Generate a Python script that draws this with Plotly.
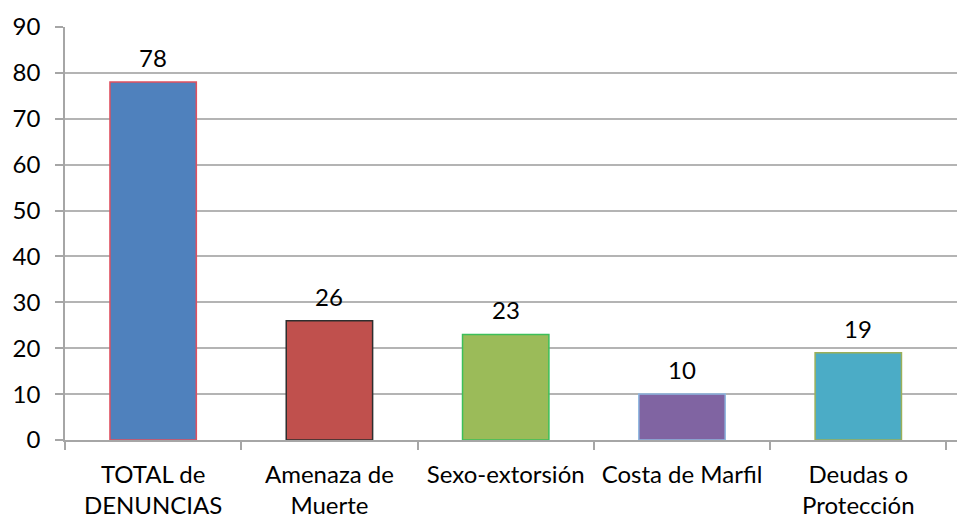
import plotly.graph_objects as go

categories = ["TOTAL de<br>DENUNCIAS", "Amenaza de<br>Muerte", "Sexo-extorsión", "Costa de Marfil", "Deudas o<br>Protección"]
values = [78, 26, 23, 10, 19]
fill_colors = ["#4F81BD", "#C0504D", "#9BBB59", "#8064A2", "#4BACC6"]
line_colors = ["#E0505F", "#2E2E2E", "#3CBF5A", "#8FB6E0", "#9BAF59"]
y_ticks = [0, 10, 20, 30, 40, 50, 60, 70, 80, 90]

FONT = "Lato"
FS = 24

fig = go.Figure()
fig.add_trace(go.Bar(
    x=categories,
    y=values,
    marker=dict(color=fill_colors, line=dict(color=line_colors, width=1.5)),
    cliponaxis=False,
    width=0.49,
    hoverinfo="x+y",
))

for c, v in zip(categories, values):
    fig.add_annotation(
        x=c, y=v, text=str(v), showarrow=False,
        yanchor="bottom", yshift=8,
        font=dict(family=FONT, size=FS, color="#000000"),
    )

fig.update_layout(
    width=957, height=520,
    margin=dict(l=65, r=0, t=27, b=80, autoexpand=False),
    paper_bgcolor="white", plot_bgcolor="white",
    showlegend=False,
    font=dict(family=FONT, size=FS, color="#000000"),
)
fig.update_xaxes(
    range=[-0.5, 4.56],
    automargin=False,
    tickson="boundaries",
    ticks="outside", ticklen=8, tickcolor="#A6A6A6", tickwidth=1.5,
    showline=True, linecolor="#A6A6A6", linewidth=1.5,
    showgrid=False,
    ticklabelstandoff=12,
    tickfont=dict(family=FONT, size=FS, color="#000000"),
)
fig.update_yaxes(
    range=[0, 90],
    automargin=False,
    tickvals=y_ticks,
    ticks="outside", ticklen=8, tickcolor="#A6A6A6", tickwidth=1.5,
    showline=True, linecolor="#A6A6A6", linewidth=1.5,
    showgrid=True, gridcolor="#B4B4B4", gridwidth=1.5,
    zeroline=False,
    ticklabelstandoff=10,
    tickfont=dict(family=FONT, size=FS, color="#000000"),
)

fig.write_html(
    "out.html",
    config={"displayModeBar": False},
    post_script="document.body.style.margin='0px';document.body.style.overflow='hidden';",
)
